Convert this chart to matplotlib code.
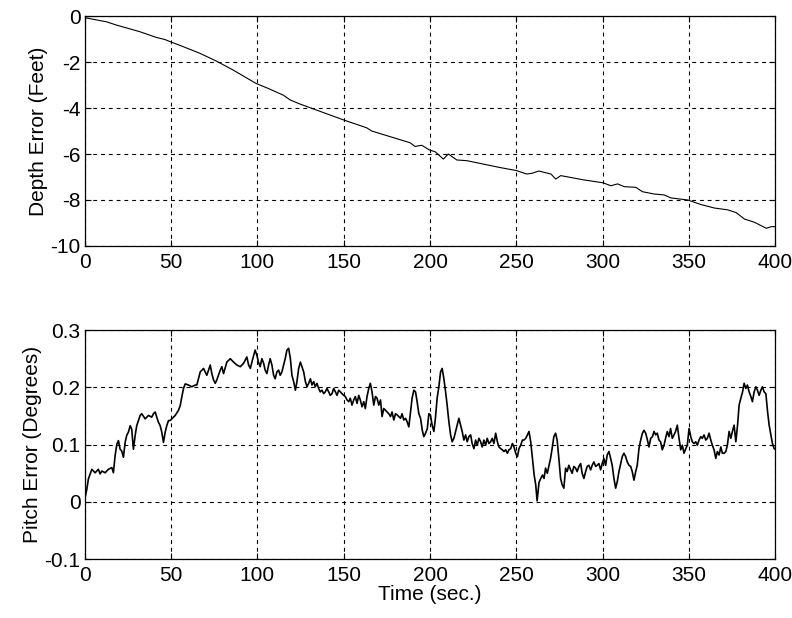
import matplotlib
matplotlib.use("Agg")
import matplotlib.pyplot as plt

# depth error trace (feet)
depth_t = [0, 12.6, 18.3, 31.9, 41.5, 46.4, 49.7, 56, 66.7, 76.3, 86, 99.2,
           105.4, 115, 119, 124.8, 150, 163.3, 166.2, 188.4, 191.3, 195.2,
           199.8, 202.9, 207.7, 210.6, 215.5, 221.3, 240.6, 250, 256, 259,
           263, 270, 272.8, 275.7, 289.3, 300, 304.8, 308.6, 312.5, 319.2,
           323, 329.8, 335.6, 339.5, 349.2, 357, 364.7, 372.5, 377.3, 382.1,
           387.9, 394.7, 397.6, 400]
depth_ft = [-0.07, -0.25, -0.39, -0.68, -0.93, -1.02, -1.12, -1.30, -1.62,
            -1.96, -2.35, -2.93, -3.12, -3.44, -3.65, -3.83, -4.52, -4.86,
            -5.00, -5.51, -5.67, -5.62, -5.83, -5.90, -6.22, -6.00, -6.26,
            -6.29, -6.59, -6.72, -6.87, -6.84, -6.74, -6.87, -7.09, -6.94,
            -7.13, -7.25, -7.38, -7.30, -7.42, -7.45, -7.64, -7.74, -7.78,
            -7.91, -8.00, -8.20, -8.35, -8.43, -8.55, -8.83, -8.97, -9.23,
            -9.16, -9.16]

# pitch error trace (degrees)
pitch_t = [0, 1.2, 2.1, 4.1, 6.0, 7.9, 8.9, 9.9, 11.8, 13.7, 15.7, 16.6, 17.6,
           18.6, 19.5, 20.5, 21.4, 22.4, 23.4, 24.3, 25.3, 26.3, 27.2, 28.2,
           29.2, 30.1, 31.1, 32.1, 33.0, 35.0, 36.9, 38.8, 39.8, 40.8, 41.7,
           42.7, 43.7, 44.6, 45.6, 46.6, 47.5, 48.5, 49.5, 50.4, 52.4, 54.3,
           55.3, 56.2, 57.2, 58.2, 60.1, 62.0, 64.0,
           64.9, 66.9, 68.8, 70.7, 72.7, 73.6, 74.6, 75.6, 76.5, 78.5, 79.4,
           80.4, 82.3, 84.3, 86.2, 88.1, 90.1, 92.0, 93.9, 94.9, 95.9, 96.8,
           98.7, 99.7, 100.6, 101.6, 102.6, 103.6, 104.5, 105.5, 106.5, 107.4,
           108.4, 109.4, 110.3, 111.3, 112.3, 113.2, 114.2, 115.2, 116.1,
           117.1, 118.1, 119.1, 120.0, 121.0, 122.0, 122.9, 123.9, 124.9,
           125.8, 126.8, 127.8, 128.7, 129.7, 130.7,
           131.6, 132.6, 133.5, 134.5, 135.5, 136.4, 137.4, 138.4, 139.3,
           140.3, 141.3, 142.2, 143.2, 144.2, 145.2, 146.1, 147.1, 148.1,
           149.0, 150.0, 150.9, 151.9, 152.9, 153.8, 154.8, 155.8, 156.7,
           157.7, 158.7, 159.6, 160.6, 161.6, 162.5, 163.5, 164.5, 165.4,
           166.4, 167.4, 168.4, 169.3, 170.3, 171.3, 172.2, 173.2, 174.2,
           175.1, 176.1, 177.1, 178.0, 179.0, 180.0, 180.9, 181.9, 182.9,
           183.8, 184.8, 185.8, 186.7, 187.7, 188.7, 189.6, 190.6, 191.6,
           192.5, 193.5, 194.5, 195.5, 196.4, 197.4, 198.4, 199.3,
           200.2, 201.2, 202.2, 203.1, 204.1, 205.1, 206.1, 207.0, 208.0,
           209.0, 209.9, 210.9, 211.9, 212.8, 213.8, 214.8, 215.7, 216.7,
           217.7, 218.6, 219.6, 220.6, 221.5, 222.5, 223.5, 224.4, 225.4,
           226.4, 227.3, 228.3, 229.3, 230.2, 231.2, 232.2, 233.1, 234.1,
           235.1, 236.0, 237.0, 238.0, 239.0, 239.9, 240.9, 241.9, 242.8,
           243.8, 244.8, 245.7, 246.7, 247.7, 248.6, 249.6, 250.6, 251.5,
           252.5, 253.5, 254.4, 255.4, 256.4, 257.3, 258.3, 259.3, 260.3,
           261.2, 262.0, 263.1, 264.1, 265.1,
           266.0, 266.9, 267.9, 268.8, 269.8, 270.7, 271.7, 272.7, 273.6,
           274.6, 275.6, 276.5, 277.5, 278.5, 279.4, 280.4, 281.4, 282.3,
           283.3, 284.3, 285.2, 286.2, 287.2, 288.1, 289.1, 290.1, 291.0,
           292.0, 293.0, 293.9, 294.9, 295.9, 296.8, 297.8, 298.8, 299.7,
           300.7, 301.7, 302.6, 303.6, 304.6, 305.5, 306.5, 307.5, 308.4,
           309.4, 310.4, 311.3, 312.3, 313.3, 314.2, 315.2, 316.2, 317.1,
           318.1, 319.1, 320.0, 321.0, 322.0, 323.0, 323.9, 324.9, 325.9,
           326.8, 327.8, 328.8, 329.7, 330.7,
           331.6, 332.6, 333.5, 334.5, 335.5, 336.4, 337.4, 338.4, 339.3,
           340.3, 341.3, 342.2, 343.2, 344.2, 345.2, 346.1, 347.1, 348.1,
           349.0, 350.0, 351.0, 351.9, 352.9, 353.9, 354.8, 355.8, 356.8,
           357.7, 358.7, 359.7, 360.6, 361.6, 362.6, 363.5, 364.5, 365.5,
           366.4, 367.4, 368.4, 369.3, 370.3, 371.3, 372.2, 373.2, 374.2,
           375.1, 376.1, 377.1, 378.1, 379.0, 380.0, 381.0, 381.9, 382.9,
           383.8, 384.8, 385.8, 386.7, 387.7, 388.7, 389.6, 390.6, 391.6,
           392.5, 393.5, 394.5, 395.5, 396.4, 397.4, 398.3, 399.3, 400.0]
pitch_deg = [0.005, 0.022, 0.040, 0.057, 0.051, 0.057, 0.049, 0.054, 0.051,
             0.057, 0.060, 0.051, 0.081, 0.101, 0.107, 0.092, 0.089, 0.078,
             0.104, 0.116, 0.122, 0.133, 0.127, 0.092, 0.116, 0.133, 0.142,
             0.151, 0.154, 0.145, 0.151, 0.148, 0.154, 0.157, 0.148, 0.139,
             0.133, 0.122, 0.104, 0.122, 0.133, 0.142, 0.142, 0.145, 0.151,
             0.160, 0.168, 0.183, 0.198, 0.206, 0.204, 0.201, 0.204,
             0.204, 0.227, 0.233, 0.221, 0.239, 0.224, 0.213, 0.207, 0.213,
             0.230, 0.236, 0.224, 0.244, 0.250, 0.244, 0.239, 0.236, 0.242,
             0.253, 0.239, 0.233, 0.244, 0.265, 0.256, 0.244, 0.236, 0.250,
             0.242, 0.230, 0.224, 0.239, 0.250, 0.239, 0.221, 0.215, 0.227,
             0.230, 0.221, 0.227, 0.239, 0.250, 0.265, 0.268, 0.250, 0.221,
             0.210, 0.195, 0.210, 0.233, 0.244, 0.236, 0.227, 0.210, 0.201,
             0.207, 0.215,
             0.204, 0.210, 0.201, 0.207, 0.198, 0.192, 0.195, 0.189, 0.192,
             0.198, 0.192, 0.186, 0.189, 0.198, 0.192, 0.186, 0.195, 0.192,
             0.189, 0.186, 0.184, 0.178, 0.175, 0.181, 0.169, 0.178, 0.184,
             0.172, 0.186, 0.178, 0.166, 0.175, 0.163, 0.184, 0.198, 0.207,
             0.192, 0.169, 0.184, 0.181, 0.169, 0.178, 0.149, 0.163, 0.160,
             0.157, 0.154, 0.149, 0.157, 0.143, 0.154, 0.152, 0.149, 0.146,
             0.154, 0.143, 0.146, 0.140, 0.131, 0.157, 0.181, 0.195, 0.192,
             0.175, 0.154, 0.146, 0.125, 0.114, 0.120, 0.128, 0.154,
             0.152, 0.134, 0.123, 0.146, 0.181, 0.201, 0.227, 0.233, 0.215,
             0.192, 0.169, 0.140, 0.117, 0.105, 0.111, 0.123, 0.134, 0.146,
             0.134, 0.123, 0.108, 0.117, 0.105, 0.114, 0.117, 0.102, 0.093,
             0.108, 0.099, 0.111, 0.105, 0.096, 0.108, 0.099, 0.111, 0.102,
             0.105, 0.111, 0.102, 0.120, 0.105, 0.096, 0.093, 0.091, 0.088,
             0.091, 0.085, 0.091, 0.093, 0.102, 0.096, 0.085, 0.079, 0.093,
             0.099, 0.108, 0.108, 0.111, 0.117, 0.123, 0.105, 0.076, 0.047,
             0.030, 0.002, 0.034, 0.041, 0.047,
             0.041, 0.059, 0.050, 0.062, 0.076, 0.093, 0.114, 0.120, 0.108,
             0.076, 0.041, 0.030, 0.024, 0.059, 0.053, 0.064, 0.056, 0.050,
             0.062, 0.059, 0.053, 0.062, 0.067, 0.050, 0.041, 0.053, 0.062,
             0.064, 0.056, 0.064, 0.070, 0.062, 0.064, 0.067, 0.056, 0.067,
             0.076, 0.064, 0.082, 0.088, 0.076, 0.064, 0.041, 0.024, 0.035,
             0.053, 0.067, 0.079, 0.085, 0.079, 0.070, 0.064, 0.062, 0.053,
             0.038, 0.053, 0.064, 0.093, 0.108, 0.120, 0.125, 0.120, 0.108,
             0.096, 0.111, 0.114, 0.123, 0.117,
             0.120, 0.108, 0.105, 0.091, 0.099, 0.111, 0.123, 0.114, 0.128,
             0.111, 0.117, 0.123, 0.134, 0.111, 0.091, 0.099, 0.085, 0.093,
             0.099, 0.128, 0.114, 0.105, 0.102, 0.105, 0.099, 0.108, 0.114,
             0.111, 0.117, 0.108, 0.111, 0.120, 0.108, 0.099, 0.091, 0.076,
             0.088, 0.082, 0.096, 0.085, 0.085, 0.088, 0.099, 0.123, 0.111,
             0.123, 0.134, 0.105, 0.134, 0.169, 0.181, 0.192, 0.207, 0.198,
             0.204, 0.192, 0.184, 0.175, 0.192, 0.201, 0.195, 0.186, 0.195,
             0.201, 0.192, 0.189, 0.157, 0.134, 0.117, 0.102, 0.093, 0.092]

x_ticks = [0, 50, 100, 150, 200, 250, 300, 350, 400]
depth_ticks = [-10, -8, -6, -4, -2, 0]
pitch_ticks = [-0.1, 0, 0.1, 0.2, 0.3]
pitch_tick_labels = ["-0.1", "0", "0.1", "0.2", "0.3"]

plt.rcParams["font.family"] = ["Liberation Sans", "DejaVu Sans"]
plt.rcParams["font.size"] = 15
plt.rcParams["axes.unicode_minus"] = False

fig = plt.figure(figsize=(7.92, 6.18), dpi=100)
ax1 = fig.add_axes([0.107, 0.602, 0.872, 0.372])
ax2 = fig.add_axes([0.107, 0.095, 0.872, 0.371])


def style(ax):
    ax.set_xlim(0, 400)
    ax.set_xticks(x_ticks)
    ax.grid(True, color="black", linestyle=(0, (3.5, 3.5)), linewidth=0.8)
    ax.tick_params(direction="in", top=True, right=True, length=4,
                   width=0.8, labelsize=15)
    ax.tick_params(axis="x", pad=5)
    ax.tick_params(axis="y", pad=3)
    for s in ax.spines.values():
        s.set_linewidth(0.9)


ax1.plot(depth_t, depth_ft, color="black", linewidth=0.8)
ax1.set_ylim(-10, 0)
ax1.set_yticks(depth_ticks)
ax1.set_ylabel("Depth Error (Feet)", labelpad=2)
style(ax1)

ax2.plot(pitch_t, pitch_deg, color="black", linewidth=1.2)
ax2.set_ylim(-0.1, 0.3)
ax2.set_yticks(pitch_ticks)
ax2.set_yticklabels(pitch_tick_labels)
ax2.set_ylabel("Pitch Error (Degrees)", labelpad=2)
ax2.set_xlabel("Time (sec.)", labelpad=0)
style(ax2)

fig.savefig("out.png", dpi=100)
